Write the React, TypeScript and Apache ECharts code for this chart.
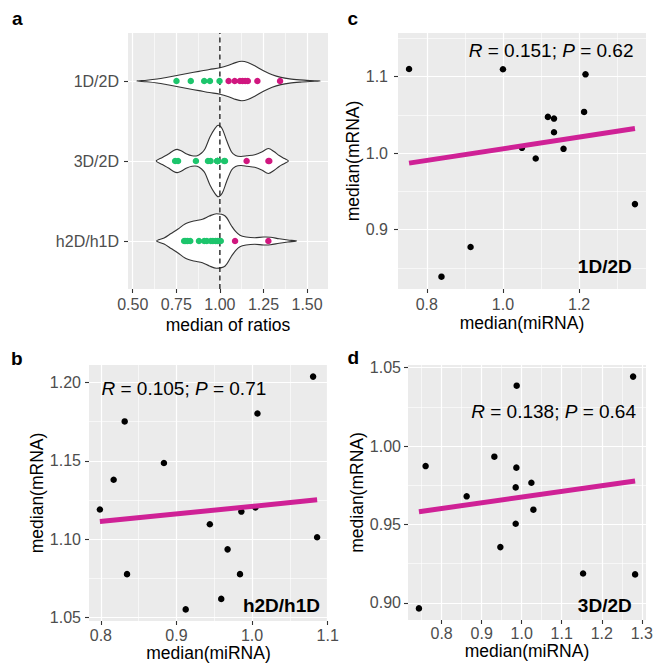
import React, { useEffect, useRef } from 'react';
import * as echarts from 'echarts';

// ---------- Panel a: violins ----------
const violinNames = ['h2D/h1D', '3D/2D', '1D/2D']; // positions 1, 2, 3
const violinTicks = [0.5, 0.75, 1.0, 1.25, 1.5];
const violinMinorTicks = [0.625, 0.875, 1.125, 1.375];

const v1D2D_x = [0.523, 0.58, 0.64, 0.70, 0.76, 0.82, 0.88, 0.94, 1.00, 1.05, 1.09, 1.125, 1.16, 1.20, 1.25, 1.30, 1.35, 1.40, 1.46, 1.52, 1.576];
const v1D2D_hw = [0, 0.010, 0.025, 0.0475, 0.0725, 0.0975, 0.12, 0.144, 0.165, 0.196, 0.23, 0.246, 0.231, 0.19, 0.1275, 0.0775, 0.045, 0.026, 0.014, 0.006, 0];

const v3D2D_x = [0.635, 0.67, 0.705, 0.735, 0.755, 0.78, 0.81, 0.84, 0.87, 0.895, 0.915, 0.943, 0.971, 0.99, 1.013, 1.038, 1.067, 1.09, 1.12, 1.155, 1.20, 1.24, 1.278, 1.31, 1.34, 1.37, 1.393];
const v3D2D_hw = [0, 0.044, 0.0875, 0.131, 0.145, 0.125, 0.0875, 0.066, 0.066, 0.1, 0.154, 0.3, 0.404, 0.446, 0.404, 0.259, 0.1125, 0.069, 0.056, 0.065, 0.079, 0.1125, 0.156, 0.119, 0.069, 0.031, 0];

const vh2Dh1D_x = [0.637, 0.68, 0.72, 0.76, 0.80, 0.85, 0.90, 0.94, 0.98, 1.03, 1.067, 1.09, 1.115, 1.15, 1.20, 1.25, 1.29, 1.34, 1.39, 1.44];
const vh2Dh1D_hw = [0, 0.0375, 0.094, 0.15, 0.2125, 0.25, 0.2725, 0.3125, 0.341, 0.3125, 0.1875, 0.119, 0.071, 0.05, 0.041, 0.05, 0.0475, 0.0275, 0.0125, 0];

const dots1D2D_green = [0.751, 0.833, 0.91, 0.943, 0.998];
const dots1D2D_magenta = [1.05, 1.085, 1.115, 1.13, 1.145, 1.16, 1.215, 1.345];
const dots3D2D_green = [0.7433, 0.76, 0.8625, 0.9317, 0.9467, 0.985, 0.985, 0.9867, 0.9875, 1.0242, 1.0292];
const dots3D2D_magenta = [1.1533, 1.2783, 1.2833];
const dotsh2D_green = [0.795, 0.805, 0.815, 0.83, 0.88, 0.91, 0.925, 0.948, 0.96, 0.975, 0.985, 0.995, 1.005];
const dotsh2D_magenta = [1.087, 1.278];

// ---------- Panel c: 1D/2D ----------
const c_x = [0.7535, 1.0, 1.2167, 1.213, 1.118, 1.134, 1.134, 1.05, 1.159, 1.086, 1.3465, 0.915, 0.8386];
const c_y = [1.110, 1.1096, 1.103, 1.0539, 1.0474, 1.0452, 1.0274, 1.007, 1.0057, 0.993, 0.9335, 0.8774, 0.8387];
const c_fitX = [0.7535, 1.3465];
const c_fitY = [0.987, 1.0322];

// ---------- Panel b: h2D/h1D ----------
const b_x = [1.0807, 1.0071, 0.8315, 0.8834, 0.8169, 0.7987, 0.9858, 1.0044, 0.9441, 1.086, 0.9676, 0.8346, 0.984, 0.9592, 0.9122];
const b_y = [1.2038, 1.1803, 1.1752, 1.1487, 1.138, 1.119, 1.1177, 1.1203, 1.1096, 1.1013, 1.0936, 1.0778, 1.0778, 1.062, 1.0553];
const b_fitX = [0.7987, 1.086];
const b_fitY = [1.1113, 1.1252];

// ---------- Panel d: 3D/2D ----------
const d_x = [1.2783, 0.9875, 0.9317, 0.76, 0.9867, 1.0242, 0.985, 0.8625, 1.0292, 0.985, 0.9467, 1.1533, 1.2833, 0.7433];
const d_y = [1.0443, 1.0385, 0.9932, 0.9872, 0.9862, 0.9766, 0.9736, 0.9679, 0.9594, 0.9504, 0.9355, 0.9187, 0.9181, 0.8964];
const d_fitX = [0.7433, 1.2833];
const d_fitY = [0.9581, 0.9777];

const FONT = '"Liberation Sans", Arial, Helvetica, sans-serif';
const TICK_TEXT = '#4D4D4D';
const GREEN = '#1DC56C';
const MAGENTA = '#D0177F';
const FIT = '#CF2196';
const TICK_FS = 16;
const TITLE_FS = 17.5;

const zip = (xs: number[], ys: number[]) => xs.map((x, i) => [x, ys[i]]);

function majorAxis(o: any) {
  return {
    type: 'value',
    gridIndex: o.grid,
    min: o.min,
    max: o.max,
    position: o.position,
    axisLine: { show: false },
    axisTick: { show: true, length: 4, customValues: o.ticks, lineStyle: { color: '#333333', width: 1.1 } },
    axisLabel: {
      show: true,
      customValues: o.ticks,
      margin: o.margin,
      color: TICK_TEXT,
      fontSize: TICK_FS,
      fontFamily: FONT,
      formatter: o.formatter,
    },
    splitLine: { show: true, lineStyle: { color: '#FFFFFF', width: 1.2 } },
    minorTick: { show: false },
    minorSplitLine: { show: false },
    name: o.name || '',
    nameLocation: 'middle',
    nameGap: o.nameGap || 0,
    nameRotate: o.nameRotate || 0,
    nameTextStyle: { color: '#000', fontSize: TITLE_FS, fontFamily: FONT },
  };
}

function minorAxis(o: any) {
  return {
    type: 'value',
    gridIndex: o.grid,
    min: o.min,
    max: o.max,
    position: o.position,
    axisLine: { show: false },
    axisTick: { show: false, customValues: o.ticks },
    axisLabel: { show: false, customValues: o.ticks },
    splitLine: { show: true, lineStyle: { color: '#FFFFFF', width: 0.6 } },
  };
}

export default function App() {
  const ref = useRef<HTMLDivElement>(null);

  useEffect(() => {
    document.body.style.margin = '0';
    if (!ref.current) return;
    const chart = echarts.init(ref.current, null, { renderer: 'svg' });

    const violins = [
      { pos: 3, x: v1D2D_x, hw: v1D2D_hw },
      { pos: 2, x: v3D2D_x, hw: v3D2D_hw },
      { pos: 1, x: vh2Dh1D_x, hw: vh2Dh1D_hw },
    ];

    const gridBase = { show: true, backgroundColor: '#EBEBEB', borderWidth: 0, outerBoundsMode: 'none', containLabel: false };

    const grids = [
      { ...gridBase, left: 128, top: 33, width: 200, height: 256 }, // a
      { ...gridBase, left: 398, top: 33, width: 248, height: 256 }, // c
      { ...gridBase, left: 89, top: 365, width: 239, height: 256 }, // b
      { ...gridBase, left: 408, top: 365, width: 238, height: 255 }, // d
    ];

    const f2 = (v: number) => v.toFixed(2);
    const f1 = (v: number) => v.toFixed(1);

    const xAxes = [
      majorAxis({ grid: 0, min: 0.473, max: 1.62, ticks: violinTicks, position: 'bottom', margin: 7, formatter: f2, name: 'median of ratios', nameGap: 27 }),
      minorAxis({ grid: 0, min: 0.473, max: 1.62, ticks: violinMinorTicks, position: 'bottom' }),
      majorAxis({ grid: 1, min: 0.7245, max: 1.3755, ticks: [0.8, 1.0, 1.2], position: 'bottom', margin: 7, formatter: f1, name: 'median(miRNA)', nameGap: 25 }),
      minorAxis({ grid: 1, min: 0.7245, max: 1.3755, ticks: [0.9, 1.1, 1.3], position: 'bottom' }),
      majorAxis({ grid: 2, min: 0.7843, max: 1.1004, ticks: [0.8, 0.9, 1.0, 1.1], position: 'bottom', margin: 6, formatter: f1, name: 'median(miRNA)', nameGap: 21 }),
      minorAxis({ grid: 2, min: 0.7843, max: 1.1004, ticks: [0.85, 0.95, 1.05], position: 'bottom' }),
      majorAxis({ grid: 3, min: 0.716, max: 1.3105, ticks: [0.8, 0.9, 1.0, 1.1, 1.2, 1.3], position: 'bottom', margin: 5, formatter: f1, name: 'median(miRNA)', nameGap: 20 }),
      minorAxis({ grid: 3, min: 0.716, max: 1.3105, ticks: [0.75, 0.85, 0.95, 1.05, 1.15, 1.25], position: 'bottom' }),
    ];

    const yAxes = [
      majorAxis({ grid: 0, min: 0.4, max: 3.6, ticks: [1, 2, 3], position: 'left', margin: 9, formatter: (v: number) => violinNames[Math.round(v) - 1] }),
      majorAxis({ grid: 1, min: 0.8226, max: 1.157, ticks: [0.9, 1.0, 1.1], position: 'left', margin: 10, formatter: f1, name: 'median(mRNA)', nameGap: 31, nameRotate: 90 }),
      minorAxis({ grid: 1, min: 0.8226, max: 1.157, ticks: [0.85, 0.95, 1.05, 1.15], position: 'left' }),
      majorAxis({ grid: 2, min: 1.0479, max: 1.2112, ticks: [1.05, 1.1, 1.15, 1.2], position: 'left', margin: 8, formatter: f2, name: 'median(mRNA)', nameGap: 41, nameRotate: 90 }),
      minorAxis({ grid: 2, min: 1.0479, max: 1.2112, ticks: [1.075, 1.125, 1.175], position: 'left' }),
      majorAxis({ grid: 3, min: 0.889, max: 1.0517, ticks: [0.9, 0.95, 1.0, 1.05], position: 'left', margin: 7, formatter: f2, name: 'median(mRNA)', nameGap: 42, nameRotate: 90 }),
      minorAxis({ grid: 3, min: 0.889, max: 1.0517, ticks: [0.925, 0.975, 1.025], position: 'left' }),
    ];

    const pointSeries = (xi: number, yi: number, data: number[][], color: string, size: number) => ({
      type: 'scatter',
      xAxisIndex: xi,
      yAxisIndex: yi,
      data,
      symbol: 'circle',
      symbolSize: size,
      itemStyle: { color, borderWidth: 0, opacity: 1 },
      silent: true,
      z: 4,
    });

    const fitSeries = (xi: number, yi: number, xs: number[], ys: number[]) => ({
      type: 'line',
      xAxisIndex: xi,
      yAxisIndex: yi,
      data: zip(xs, ys),
      symbol: 'none',
      lineStyle: { color: FIT, width: 5 },
      silent: true,
      z: 5,
    });

    const series: any[] = [
      {
        type: 'custom',
        xAxisIndex: 0,
        yAxisIndex: 0,
        data: violins.map((v) => [v.x[0], v.pos]),
        silent: true,
        z: 2,
        renderItem: (params: any, api: any) => {
          const v = violins[params.dataIndex];
          const pts: number[][] = [];
          for (let k = 0; k < v.x.length; k++) pts.push(api.coord([v.x[k], v.pos + v.hw[k]]));
          for (let k = v.x.length - 2; k >= 1; k--) pts.push(api.coord([v.x[k], v.pos - v.hw[k]]));
          return {
            type: 'polygon',
            shape: { points: pts, smooth: 0.3 },
            style: { fill: '#FFFFFF', stroke: '#333333', lineWidth: 1.1 },
          };
        },
      },
      {
        type: 'line',
        xAxisIndex: 0,
        yAxisIndex: 0,
        data: [[1, 0.4], [1, 3.6]],
        symbol: 'none',
        lineStyle: { color: '#222222', width: 1.4, type: [5, 3.5] },
        silent: true,
        z: 3,
      },
      pointSeries(0, 0, dots1D2D_green.map((x) => [x, 3]), GREEN, 6.5),
      pointSeries(0, 0, dots1D2D_magenta.map((x) => [x, 3]), MAGENTA, 6.5),
      pointSeries(0, 0, dots3D2D_green.map((x) => [x, 2]), GREEN, 6.5),
      pointSeries(0, 0, dots3D2D_magenta.map((x) => [x, 2]), MAGENTA, 6.5),
      pointSeries(0, 0, dotsh2D_green.map((x) => [x, 1]), GREEN, 6.5),
      pointSeries(0, 0, dotsh2D_magenta.map((x) => [x, 1]), MAGENTA, 6.5),
      pointSeries(2, 1, zip(c_x, c_y), '#000000', 6.5),
      fitSeries(2, 1, c_fitX, c_fitY),
      pointSeries(4, 3, zip(b_x, b_y), '#000000', 6.5),
      fitSeries(4, 3, b_fitX, b_fitY),
      pointSeries(6, 5, zip(d_x, d_y), '#000000', 6.5),
      fitSeries(6, 5, d_fitX, d_fitY),
    ];

    const txt = (text: string, x: number, y: number, align: string, font: string, rich?: any) => ({
      type: 'text',
      x,
      y,
      silent: true,
      z: 10,
      style: {
        text,
        fill: '#000000',
        font,
        align,
        verticalAlign: 'middle',
        rich,
      },
    });

    const corrFont = `19px ${FONT}`;
    const corrRich = { i: { fontStyle: 'italic', fontSize: 19, fontFamily: FONT, fill: '#000' }, n: { fontSize: 19, fontFamily: FONT, fill: '#000' } };
    const boldFont = `bold 19px ${FONT}`;
    const letterFont = `bold 19px ${FONT}`;

    const graphic = [
      txt('a', 12, 18, 'left', letterFont),
      txt('c', 347.5, 18, 'left', letterFont),
      txt('b', 11, 358, 'left', letterFont),
      txt('d', 347.5, 357, 'left', letterFont),
      txt('{i|R}{n| = 0.151; }{i|P}{n| = 0.62}', 633.5, 50, 'right', corrFont, corrRich),
      txt('{i|R}{n| = 0.105; }{i|P}{n| = 0.71}', 101.5, 388.8, 'left', corrFont, corrRich),
      txt('{i|R}{n| = 0.138; }{i|P}{n| = 0.64}', 636, 411.2, 'right', corrFont, corrRich),
      txt('1D/2D', 631.7, 266.7, 'right', boldFont),
      txt('h2D/h1D', 320, 605.8, 'right', boldFont),
      txt('3D/2D', 631.7, 605.8, 'right', boldFont),
    ];

    chart.setOption({
      animation: false,
      backgroundColor: '#FFFFFF',
      textStyle: { fontFamily: FONT },
      grid: grids,
      xAxis: xAxes,
      yAxis: yAxes,
      series,
      graphic,
    });

    return () => chart.dispose();
  }, []);

  return <div ref={ref} style={{ width: 654, height: 665 }} />;
}
